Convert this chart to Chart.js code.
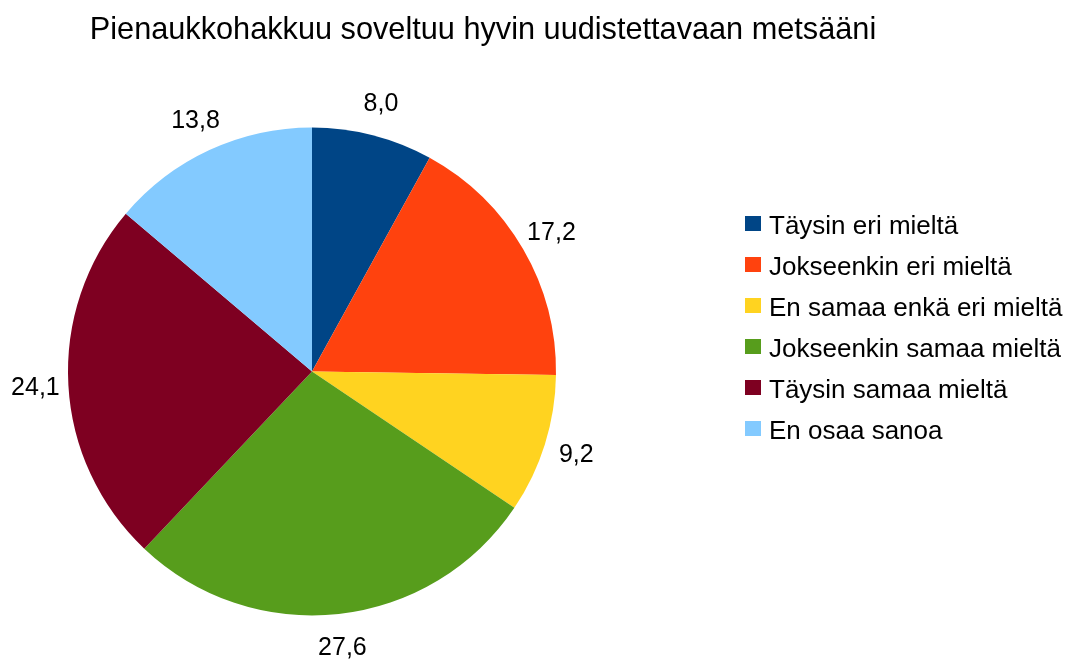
<!DOCTYPE html>
<html>
<head>
<meta charset="utf-8">
<script src="https://cdn.jsdelivr.net/npm/chart.js@4"></script>
<style>
  html, body { margin: 0; padding: 0; background: #fff; }
  #wrap { width: 1080px; height: 662px; position: relative; }
</style>
</head>
<body>
<div id="wrap"><canvas id="pie-chart"></canvas></div>
<script>
//
// Data
//
const chartTitle = 'Pienaukkohakkuu soveltuu hyvin uudistettavaan metsääni';
const answerLabels = [
    'Täysin eri mieltä',
    'Jokseenkin eri mieltä',
    'En samaa enkä eri mieltä',
    'Jokseenkin samaa mieltä',
    'Täysin samaa mieltä',
    'En osaa sanoa'
];
const answerShares = [8.0, 17.2, 9.2, 27.6, 24.1, 13.8];
const sliceColors = ['#004586', '#ff420e', '#ffd320', '#579d1c', '#7e0021', '#83caff'];

const FONT = '"Liberation Sans", Arial, sans-serif';

// Title, value labels and legend drawn on the canvas
const textPlugin = {
    id: 'textPlugin',
    afterDraw(chart) {
        const ctx = chart.ctx;
        ctx.save();
        ctx.fillStyle = '#000';

        // title
        ctx.font = '30.7px ' + FONT;
        ctx.textAlign = 'center';
        ctx.textBaseline = 'alphabetic';
        ctx.fillText(chartTitle, 483, 39);

        // value labels outside the slices, centred on a ring around the pie
        ctx.font = '25px ' + FONT;
        ctx.textBaseline = 'middle';
        const meta = chart.getDatasetMeta(0);
        meta.data.forEach((arc, i) => {
            const p = arc.getProps(['x', 'y', 'startAngle', 'endAngle', 'outerRadius'], true);
            const mid = (p.startAngle + p.endAngle) / 2;
            const txt = answerShares[i].toFixed(1).replace('.', ',');
            const r = p.outerRadius + 33;
            ctx.fillText(txt, p.x + Math.cos(mid) * r, p.y + Math.sin(mid) * r + 1);
        });

        // legend
        ctx.textAlign = 'left';
        ctx.textBaseline = 'alphabetic';
        ctx.font = '26px ' + FONT;
        answerLabels.forEach((lab, i) => {
            const y = 234 + i * 41;
            ctx.fillStyle = sliceColors[i];
            ctx.fillRect(745, y - 18, 16, 15);
            ctx.fillStyle = '#000';
            ctx.fillText(lab, 769, y);
        });
        ctx.restore();
    }
};

const pieCanvas = document.getElementById('pie-chart');

let pieChart = new Chart(pieCanvas, {
    type: 'pie',
    data: {
        labels: answerLabels,
        datasets: [{
            data: answerShares,
            backgroundColor: sliceColors,
            borderWidth: 0
        }]
    },
    options: {
        responsive: true,
        maintainAspectRatio: false,
        animation: false,
        layout: {
            padding: { left: 68, right: 524, top: 127, bottom: 46 }
        },
        plugins: {
            legend: { display: false },
            title: { display: false },
            tooltip: { enabled: false }
        }
    },
    plugins: [textPlugin]
});
</script>
</body>
</html>
